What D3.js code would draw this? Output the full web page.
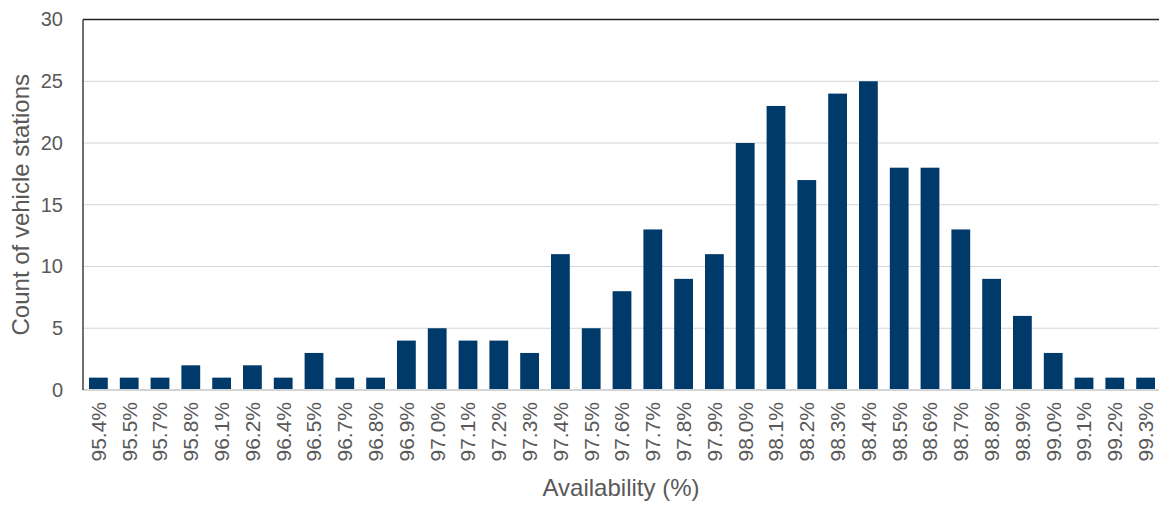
<!DOCTYPE html>
<html><head><meta charset="utf-8">
<script src="https://cdn.jsdelivr.net/npm/d3@7"></script>
<style>body{margin:0;background:#fff}svg{display:block}text{font-family:"Liberation Sans",Arial,sans-serif;fill:#595959}</style>
</head><body><svg id="c" width="1159" height="506"></svg>
<script>
const categories = ["95.4%","95.5%","95.7%","95.8%","96.1%","96.2%","96.4%","96.5%","96.7%","96.8%","96.9%","97.0%","97.1%","97.2%","97.3%","97.4%","97.5%","97.6%","97.7%","97.8%","97.9%","98.0%","98.1%","98.2%","98.3%","98.4%","98.5%","98.6%","98.7%","98.8%","98.9%","99.0%","99.1%","99.2%","99.3%"];
const counts = [1,1,1,2,1,2,1,3,1,1,4,5,4,4,3,11,5,8,13,9,11,20,23,17,24,25,18,18,13,9,6,3,1,1,1];
const yTicks = [0,5,10,15,20,25,30];
const xTitle = "Availability (%)";
const yTitle = "Count of vehicle stations";

const svg = d3.select("#c");
const L = 83, R = 1161, T = 19.5, B = 390;
const x = d3.scaleBand().domain(categories).range([L, R]).paddingInner(0.39).paddingOuter(0.195);
const y = d3.scaleLinear().domain([0, 30]).range([B, T]);

// gridlines
svg.append("g").selectAll("line").data(yTicks.filter(t => t > 0 && t < 30)).join("line")
  .attr("x1", L).attr("x2", 1159).attr("y1", d => y(d)).attr("y2", d => y(d))
  .attr("stroke", "#d4d4d4").attr("stroke-width", 1.2);

// bars
svg.append("g").selectAll("rect").data(counts).join("rect")
  .attr("x", (d, i) => x(categories[i])).attr("width", x.bandwidth())
  .attr("y", d => y(d)).attr("height", d => y(0) - y(d))
  .attr("fill", "#003a6b");

// baseline
svg.append("line").attr("x1", L).attr("x2", 1159).attr("y1", y(0)).attr("y2", y(0))
  .attr("stroke", "#d4d4d4").attr("stroke-width", 2);
// top border and left axis
svg.append("line").attr("x1", L).attr("x2", 1159).attr("y1", y(30)).attr("y2", y(30))
  .attr("stroke", "#222").attr("stroke-width", 1.3);
svg.append("line").attr("x1", L).attr("x2", L).attr("y1", y(30)).attr("y2", y(0))
  .attr("stroke", "#222").attr("stroke-width", 1.3);

// y axis labels
const yAxis = d3.axisLeft(y).tickValues(yTicks).tickSize(0).tickPadding(20);
const gy = svg.append("g").attr("transform", `translate(${L},0)`).call(yAxis);
gy.select(".domain").remove();
gy.selectAll("text").style("font-size", "20px").attr("fill", "#595959");

// x axis labels
const xAxis = d3.axisBottom(x).tickSize(0).tickPadding(0);
const gx = svg.append("g").attr("transform", `translate(0,${B})`).call(xAxis);
gx.select(".domain").remove();
gx.selectAll("text").style("font-size", "21px").attr("fill", "#595959")
  .attr("transform", "rotate(-90)").attr("text-anchor", "end")
  .attr("x", -12).attr("y", 0).attr("dy", "0.35em");

// titles
svg.append("text").attr("x", (L + 1159) / 2).attr("y", 496).attr("text-anchor", "middle")
  .style("font-size", "24px").text(xTitle);
svg.append("text").attr("transform", `translate(29,${(T + B) / 2}) rotate(-90)`).attr("text-anchor", "middle")
  .style("font-size", "24px").text(yTitle);
</script></body></html>
